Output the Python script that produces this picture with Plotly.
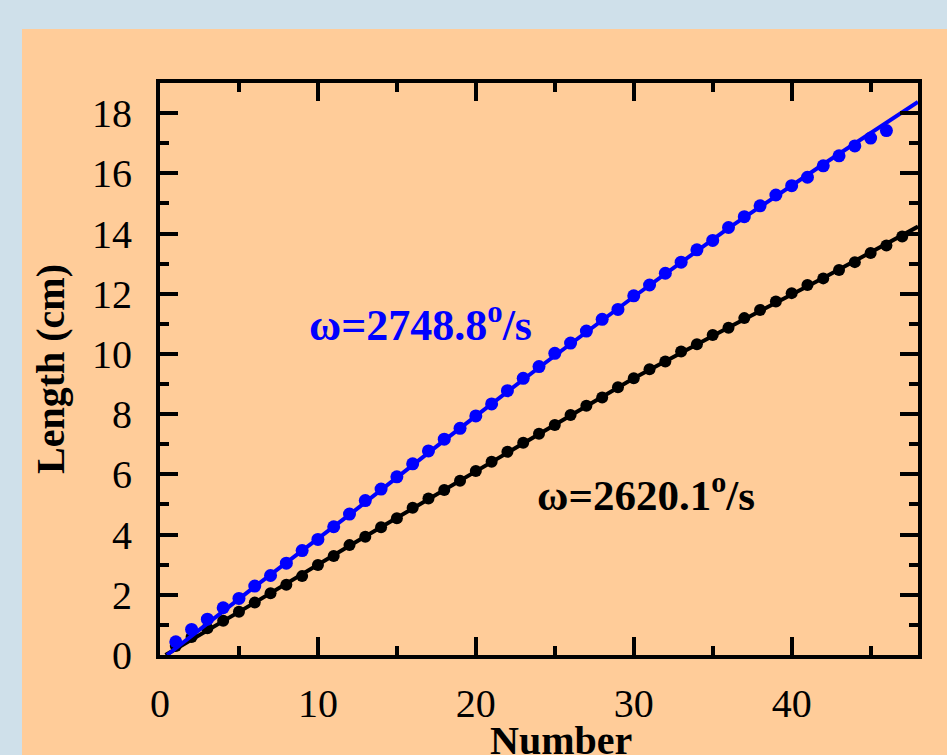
import plotly.graph_objects as go

# ---- data ----
number_blue = list(range(1, 47))
length_blue = [0.44, 0.85, 1.19, 1.57, 1.88, 2.29, 2.64, 3.05, 3.47, 3.84,
               4.26, 4.68, 5.13, 5.51, 5.92, 6.35, 6.78, 7.17, 7.53, 7.94,
               8.34, 8.78, 9.19, 9.58, 10.02, 10.36, 10.76, 11.15, 11.48, 11.93,
               12.29, 12.68, 13.05, 13.46, 13.77, 14.20, 14.56, 14.92, 15.28, 15.59,
               15.87, 16.25, 16.58, 16.91, 17.17, 17.42]

number_black = list(range(1, 48))
length_black = [0.30, 0.60, 0.89, 1.14, 1.44, 1.74, 2.05, 2.33, 2.62, 2.99,
                3.29, 3.65, 3.93, 4.24, 4.54, 4.89, 5.20, 5.48, 5.79, 6.11,
                6.42, 6.75, 7.05, 7.35, 7.64, 7.97, 8.28, 8.55, 8.89, 9.19,
                9.49, 9.75, 10.08, 10.32, 10.63, 10.87, 11.19, 11.46, 11.74, 12.02,
                12.29, 12.51, 12.79, 13.05, 13.35, 13.60, 13.90]

fit_x_blue = [0.45, 6, 12, 18, 24, 30, 36, 42, 48]
fit_y_blue = [0.0, 2.27, 4.66, 7.13, 9.55, 11.90, 14.18, 16.30, 18.37]

fit_x_black = [0.35, 6, 12, 18, 24, 30, 36, 42, 48]
fit_y_black = [0.0, 1.74, 3.63, 5.48, 7.35, 9.19, 10.88, 12.52, 14.23]

label_blue = "ω=2748.8<sup>o</sup>/s"
label_black = "ω=2620.1<sup>o</sup>/s"
x_title = "<b>Number</b>"
y_title = "<b>Length (cm)</b>"

x_ticks = [0, 10, 20, 30, 40]
y_ticks = [0, 2, 4, 6, 8, 10, 12, 14, 16, 18]

BLUE = "#0000FF"
BLACK = "#000000"
ORANGE = "#FFCC99"
BG = "#CFE0EA"
FONT = "Liberation Serif"

fig = go.Figure()

fig.add_trace(go.Scatter(x=fit_x_black, y=fit_y_black, mode="lines",
                         line=dict(color=BLACK, width=4), showlegend=False,
                         hoverinfo="skip"))
fig.add_trace(go.Scatter(x=number_black, y=length_black, mode="markers",
                         marker=dict(color=BLACK, size=12), showlegend=False))
fig.add_trace(go.Scatter(x=fit_x_blue, y=fit_y_blue, mode="lines",
                         line=dict(color=BLUE, width=4), showlegend=False,
                         hoverinfo="skip"))
fig.add_trace(go.Scatter(x=number_blue, y=length_blue, mode="markers",
                         marker=dict(color=BLUE, size=13), showlegend=False))

axis_common = dict(
    showline=True, linecolor=BLACK, linewidth=4, mirror="ticks",
    ticks="inside", ticklen=18, tickwidth=4, tickcolor=BLACK,
    showgrid=False, zeroline=False,
    tickfont=dict(family=FONT, size=40, color=BLACK),
)

fig.update_xaxes(range=[0, 48], tickvals=x_ticks, ticklabelstandoff=10,
                 minor=dict(ticks="inside", ticklen=9, tickwidth=4,
                            tickcolor=BLACK, dtick=5, tick0=0, showgrid=False),
                 **axis_common)
fig.update_yaxes(range=[0, 19], tickvals=y_ticks, ticklabelstandoff=16,
                 minor=dict(ticks="inside", ticklen=9, tickwidth=4,
                            tickcolor=BLACK, dtick=1, tick0=0, showgrid=False),
                 **axis_common)

fig.add_annotation(x=16.5, y=11.05, xref="x", yref="y", text=label_blue,
                   showarrow=False,
                   font=dict(family=FONT, size=44, color=BLUE, weight="bold"))
fig.add_annotation(x=30.8, y=5.4, xref="x", yref="y", text=label_black,
                   showarrow=False,
                   font=dict(family=FONT, size=43, color=BLACK, weight="bold"))

# x-axis title placed as text below the tick labels (cut by the bottom edge as in the reference)
fig.add_annotation(x=(561 - 160) / 758, y=-61 / 572, xref="paper", yref="paper",
                   xanchor="center", yanchor="top", text=x_title, showarrow=False,
                   font=dict(family=FONT, size=40, color=BLACK))

fig.update_layout(
    yaxis_title=dict(text=y_title, standoff=16,
                     font=dict(family=FONT, size=40, color=BLACK)),
)

fig.update_layout(
    width=947, height=755,
    margin=dict(l=160, r=29, t=83, b=100, autoexpand=False),
    paper_bgcolor=BG, plot_bgcolor=ORANGE,
    shapes=[dict(type="rect", xref="paper", yref="paper",
                 x0=-138 / 758, x1=1.1, y0=-0.3, y1=(655 - 29) / 572,
                 fillcolor=ORANGE, line=dict(width=0), layer="below")],
    font=dict(family=FONT),
)

fig.write_html("out.html", config={"displayModeBar": False},
               post_script="document.body.style.margin='0';"
                           "document.body.style.overflow='hidden';")
